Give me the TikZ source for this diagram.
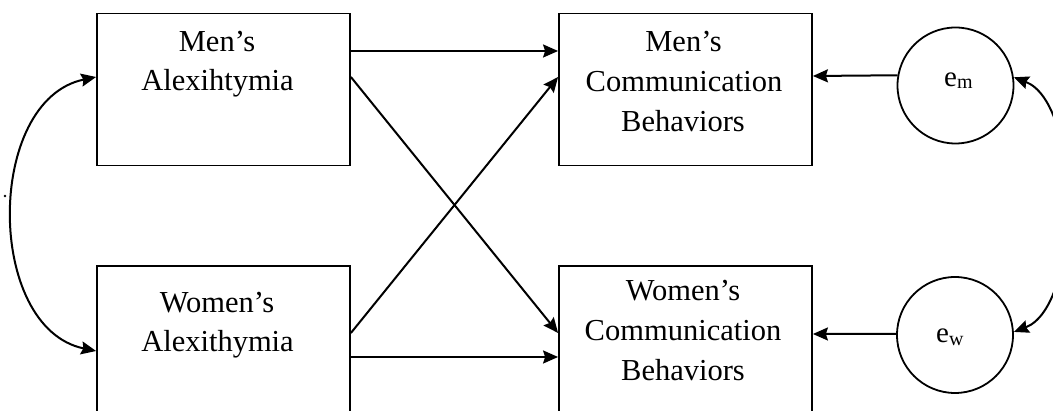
\documentclass[tikz,border=0pt]{standalone}
\usepackage{fontspec}
\setmainfont{Liberation Serif}
\usetikzlibrary{arrows.meta}
\begin{document}
\begin{tikzpicture}[x=1pt,y=-1pt,
  box/.style={draw, line width=1.8pt, minimum width=253pt, minimum height=152pt, inner sep=0pt},
  circ/.style={draw, circle, line width=1.8pt, minimum size=116pt, inner sep=0pt},
  lbl/.style={anchor=base, inner sep=0pt, font=\fontsize{30.5}{40}\selectfont},
  etxt/.style={anchor=base west, inner sep=0pt, font=\fontsize{29}{32}\selectfont},
  tip/.tip={Stealth[length=15pt,width=13pt,inset=2pt]},
  arr/.style={line width=2pt, -tip},
  dbl/.style={line width=2pt, tip-tip}
]
\useasboundingbox (0,0) rectangle (1053,411);
\clip (0,0) rectangle (1053,411);

% boxes
\node[box] (ma) at (223.5,89.5) {};
\node[box] (wa) at (223.5,342) {};
\node[box] (mc) at (685.5,89.5) {};
\node[box] (wc) at (685.5,342) {};
% error circles
\node[circ] (em) at (955.5,85.5) {};
\node[circ] (ew) at (955,335) {};

% labels
\node[lbl] (ma1) at (217,52) {Men’s};
\node[lbl] (ma2) at (217.5,90.5) {Alexihtymia};
\node[lbl] (wa1) at (217,313) {Women’s};
\node[lbl] (wa2) at (217.5,352) {Alexithymia};
\node[lbl] (mc1) at (683.5,52) {Men’s};
\node[lbl] (mc2) at (684,92) {Communication};
\node[lbl] (mc3) at (683,132) {Behaviors};
\node[lbl] (wc1) at (683,301) {Women’s};
\node[lbl] (wc2) at (683,341) {Communication};
\node[lbl] (wc3) at (683,381) {Behaviors};
\node[etxt] (emt) at (944,87) {e\raisebox{-2pt}{\fontsize{20}{20}\selectfont m}};
\node[etxt] (ewt) at (936,343) {e\raisebox{-2.5pt}{\fontsize{20}{20}\selectfont w}};

% paths
\draw[arr] ([yshift=38.5pt]ma.east) -- ([yshift=38.5pt]mc.west);
\draw[arr] ([yshift=12.5pt]ma.east) -- ([yshift=9pt]wc.west);
\draw[arr] ([yshift=9pt]wa.east) -- ([yshift=12.5pt]mc.west);
\draw[arr] ([yshift=-15pt]wa.east) -- ([yshift=-15pt]wc.west);
\draw[arr] (em.170.6) -- ([yshift=13.5pt]mc.east);
\draw[arr] (ew.179) -- ([yshift=8pt]wc.east);

% correlations
\draw[dbl] ([yshift=12.5pt]ma.west) .. controls +(-111,23) and +(-111,-23) .. ([yshift=-9pt]wa.west);
\draw[dbl] (em.8.4) .. controls +(68,26) and +(68,-26) .. (ew.3);

% stray mark
\fill (5,196) circle (1.4pt);
\end{tikzpicture}
\end{document}
